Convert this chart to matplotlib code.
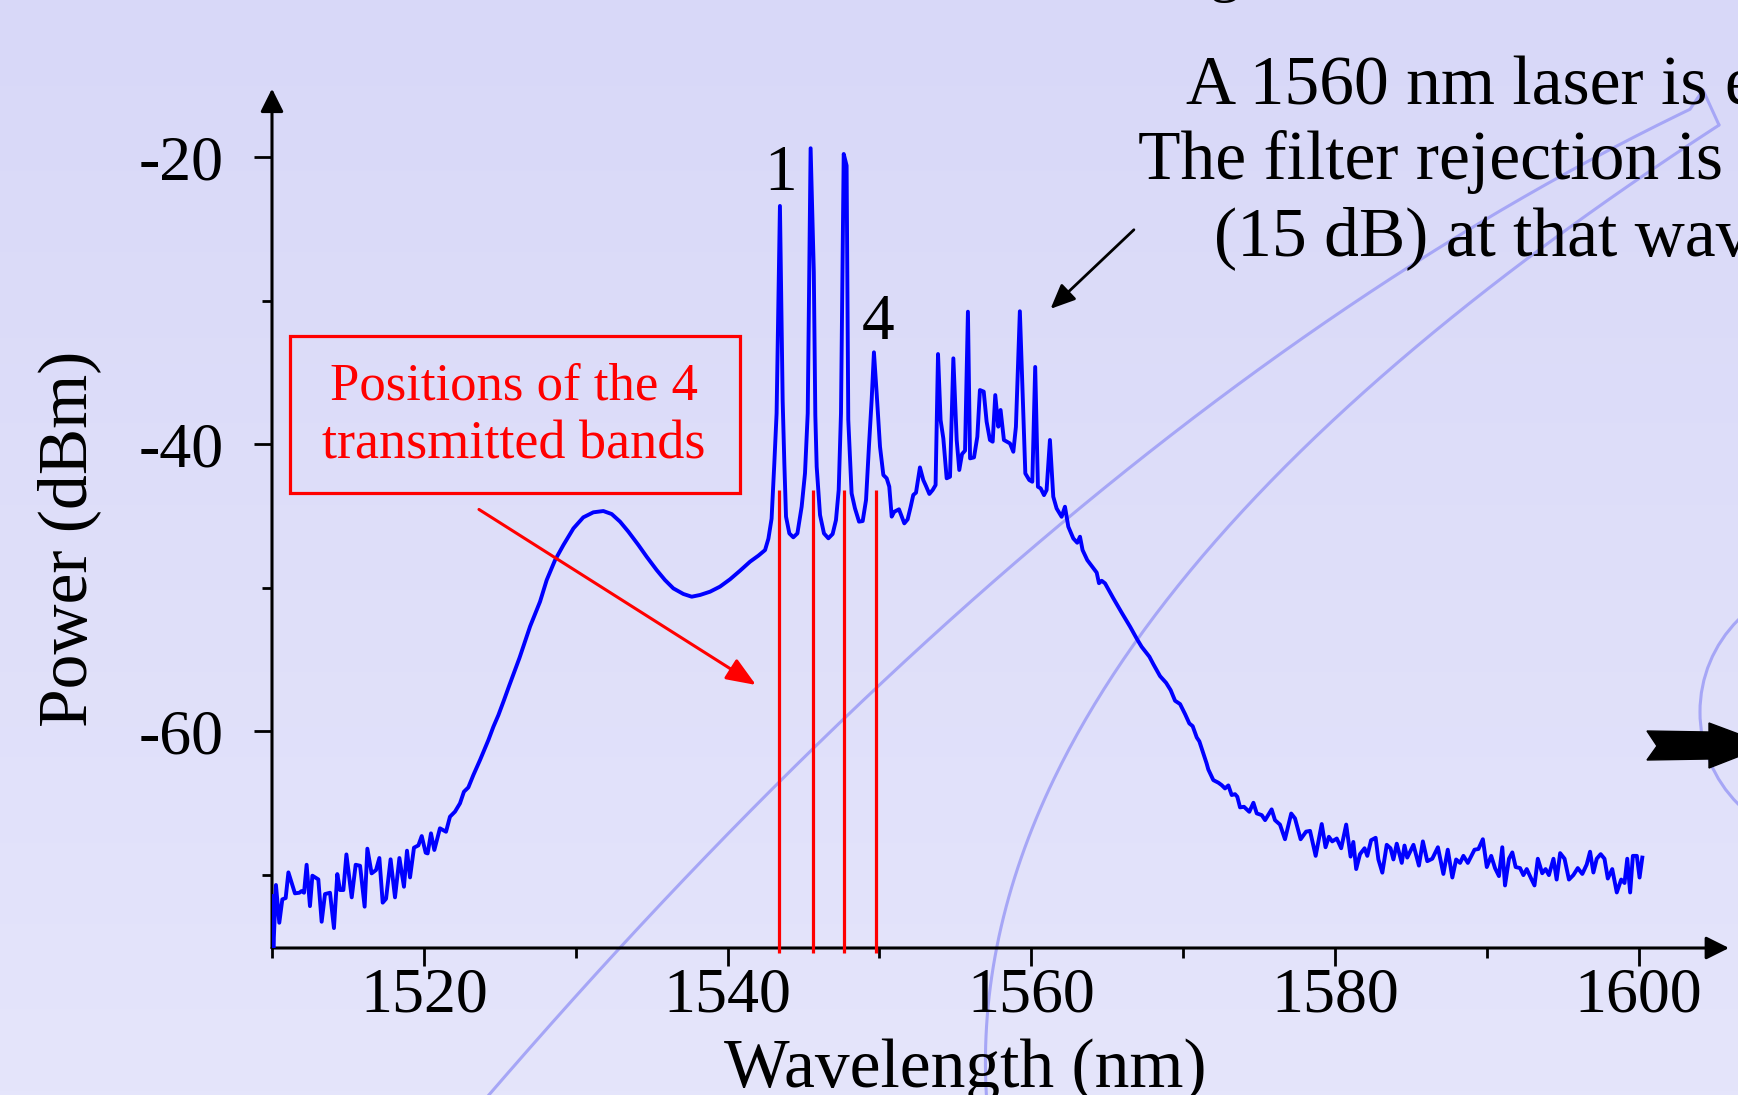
import numpy as np
import matplotlib.pyplot as plt
from matplotlib.patches import Polygon, Rectangle, Circle

plt.rcParams['font.family'] = ['Liberation Serif', 'DejaVu Serif']

wavelength_nm = [
    1510.0, 1510.09, 1510.26, 1510.48, 1510.68, 1510.9, 1511.08, 1511.51, 1511.8, 1511.95,
    1512.11, 1512.28, 1512.5, 1512.66, 1513.05, 1513.27, 1513.49, 1513.82, 1514.08, 1514.3,
    1514.48, 1514.7, 1514.9, 1515.25, 1515.51, 1515.8, 1516.1, 1516.28, 1516.56, 1516.85,
    1517.07, 1517.29, 1517.51, 1517.81, 1518.1, 1518.39, 1518.69, 1518.89, 1519.09, 1519.35,
    1519.64, 1519.86, 1520.12, 1520.25, 1520.47, 1520.69, 1521.06, 1521.46, 1521.72, 1522.05,
    1522.38, 1522.64, 1522.93, 1523.26, 1523.7, 1524.25, 1524.58, 1524.91, 1525.28, 1525.6,
    1526.3, 1527.0, 1527.65, 1528.09, 1528.64, 1529.19, 1529.85, 1530.5, 1531.16, 1531.82,
    1532.37, 1532.92, 1533.47, 1534.13, 1534.67, 1535.33, 1535.88, 1536.43, 1537.09, 1537.64,
    1538.19, 1538.85, 1539.5, 1540.16, 1540.82, 1541.48, 1542.03, 1542.47, 1542.69, 1542.9,
    1543.08, 1543.23, 1543.45, 1543.63, 1543.74, 1543.85, 1544.07, 1544.33, 1544.6, 1544.88,
    1545.1, 1545.28, 1545.47, 1545.68, 1545.78, 1545.87, 1546.09, 1546.35, 1546.64, 1546.92,
    1547.14, 1547.32, 1547.47, 1547.65, 1547.84, 1547.95, 1548.17, 1548.39, 1548.66, 1548.9,
    1549.12, 1549.31, 1549.49, 1549.64, 1549.82, 1550.04, 1550.26, 1550.48, 1550.65, 1550.81,
    1550.98, 1551.29, 1551.64, 1551.86, 1552.06, 1552.23, 1552.41, 1552.67, 1552.89, 1553.07,
    1553.29, 1553.51, 1553.7, 1553.86, 1554.03, 1554.21, 1554.43, 1554.65, 1554.87, 1555.09,
    1555.26, 1555.44, 1555.64, 1555.83, 1555.97, 1556.23, 1556.45, 1556.62, 1556.87, 1557.06,
    1557.28, 1557.46, 1557.63, 1557.83, 1557.98, 1558.2, 1558.6, 1558.82, 1558.99, 1559.25,
    1559.43, 1559.61, 1559.87, 1560.07, 1560.26, 1560.44, 1560.62, 1560.84, 1561.01, 1561.23,
    1561.45, 1561.67, 1562.0, 1562.22, 1562.44, 1562.77, 1563.03, 1563.21, 1563.38, 1563.69,
    1564.31, 1564.46, 1564.64, 1564.86, 1565.41, 1565.96, 1566.51, 1566.94, 1567.27, 1567.78,
    1568.04, 1568.48, 1568.88, 1569.18, 1569.47, 1569.8, 1570.13, 1570.41, 1570.63, 1570.9,
    1571.07, 1571.33, 1571.55, 1571.66, 1571.99, 1572.32, 1572.54, 1572.76, 1572.98, 1573.2,
    1573.42, 1573.57, 1573.75, 1574.01, 1574.36, 1574.63, 1574.85, 1575.18, 1575.4, 1575.83,
    1576.05, 1576.38, 1576.71, 1577.12, 1577.37, 1577.74, 1578.1, 1578.36, 1578.73, 1579.13,
    1579.38, 1579.6, 1579.82, 1580.12, 1580.41, 1580.74, 1581.03, 1581.21, 1581.4, 1581.65,
    1581.95, 1582.13, 1582.38, 1582.68, 1582.86, 1583.12, 1583.41, 1583.66, 1583.85, 1584.07,
    1584.4, 1584.58, 1584.76, 1585.17, 1585.53, 1585.79, 1586.08, 1586.41, 1586.78, 1587.14,
    1587.43, 1587.73, 1587.98, 1588.24, 1588.46, 1588.75, 1589.19, 1589.45, 1589.74, 1590.0,
    1590.29, 1590.54, 1590.8, 1591.02, 1591.2, 1591.46, 1591.68, 1591.9, 1592.19, 1592.41,
    1592.63, 1592.92, 1593.14, 1593.36, 1593.65, 1593.87, 1594.09, 1594.39, 1594.6, 1594.83,
    1595.12, 1595.41, 1595.7, 1595.99, 1596.29, 1596.58, 1596.8, 1597.02, 1597.24, 1597.5,
    1597.75, 1597.97, 1598.26, 1598.56, 1598.85, 1599.07, 1599.25, 1599.44, 1599.62, 1599.88,
    1600.06, 1600.24,
]
power_dbm = [
    -71.5, -75.26, -70.73, -73.36, -71.73, -71.64, -69.85, -71.31, -71.27, -71.15,
    -71.27, -69.32, -72.2, -70.08, -70.34, -73.29, -71.36, -71.27, -73.73, -69.97,
    -71.08, -71.08, -68.6, -71.59, -69.32, -69.39, -72.24, -68.2, -69.92, -69.69,
    -68.85, -71.96, -71.69, -68.94, -71.59, -68.85, -70.85, -68.34, -70.2, -68.13,
    -67.97, -67.32, -68.48, -68.53, -67.13, -68.29, -66.78, -67.02, -65.97, -65.62,
    -65.04, -64.23, -63.93, -63.07, -62.02, -60.63, -59.7, -58.89, -57.84, -56.9,
    -54.9, -52.7, -50.99, -49.48, -48.09, -47.04, -45.88, -45.11, -44.76, -44.67,
    -44.88, -45.41, -46.11, -47.04, -47.85, -48.78, -49.48, -50.06, -50.45, -50.64,
    -50.52, -50.29, -49.94, -49.43, -48.83, -48.2, -47.78, -47.39, -46.6, -45.2,
    -41.35, -37.86, -23.41, -37.0, -41.35, -45.06, -46.23, -46.5, -46.23, -44.37,
    -42.04, -37.86, -19.39, -28.0, -38.0, -41.58, -44.95, -46.23, -46.57, -46.27,
    -45.3, -43.2, -37.86, -19.79, -20.6, -38.3, -43.44, -44.48, -45.41, -45.37,
    -43.9, -40.19, -36.93, -33.61, -36.47, -40.19, -42.16, -42.39, -42.97, -45.06,
    -44.72, -44.55, -45.53, -45.25, -44.37, -43.55, -43.39, -41.63, -42.51, -42.93,
    -43.48, -43.2, -42.86, -33.73, -38.33, -39.61, -42.39, -42.28, -34.03, -39.72,
    -41.81, -40.7, -40.46, -30.78, -41.0, -40.93, -39.49, -36.24, -36.35, -38.44,
    -39.72, -39.84, -36.59, -38.79, -37.63, -39.72, -39.96, -40.54, -38.8, -30.75,
    -36.47, -42.05, -42.51, -42.63, -34.63, -42.98, -43.09, -43.56, -43.21, -39.72,
    -43.67, -44.49, -45.07, -44.37, -45.76, -46.58, -46.88, -46.46, -47.39, -48.09,
    -48.96, -49.7, -49.53, -49.71, -50.76, -51.76, -52.73, -53.55, -54.13, -54.82,
    -55.34, -56.17, -56.64, -57.15, -57.89, -58.12, -58.82, -59.47, -59.66, -60.45,
    -60.72, -61.56, -62.26, -62.68, -63.42, -63.6, -63.77, -64.0, -63.79, -64.46,
    -64.4, -64.58, -65.32, -65.28, -65.63, -65.0, -65.74, -65.86, -66.21, -65.46,
    -66.21, -66.52, -67.54, -65.75, -66.09, -67.54, -67.01, -66.96, -68.7, -66.48,
    -68.1, -67.37, -67.69, -67.49, -68.17, -66.52, -68.75, -67.73, -69.62, -68.58,
    -68.17, -68.7, -67.61, -67.44, -68.95, -69.87, -67.93, -68.17, -68.95, -67.85,
    -69.19, -67.98, -68.82, -67.93, -69.38, -67.69, -69.07, -68.9, -68.1, -69.96,
    -68.27, -70.21, -68.95, -69.19, -68.7, -69.19, -68.27, -68.22, -67.54, -69.48,
    -68.7, -69.55, -70.11, -68.1, -70.76, -68.9, -68.46, -69.48, -69.55, -70.04,
    -69.62, -70.28, -70.76, -68.9, -69.91, -69.62, -70.04, -68.9, -70.35, -68.51,
    -68.9, -70.35, -70.04, -69.55, -69.96, -69.3, -68.41, -69.86, -68.9, -68.58,
    -68.9, -70.28, -69.62, -71.25, -70.35, -70.59, -68.9, -71.25, -68.7, -68.7,
    -70.21, -68.82,
]

band_nm = [1543.37, 1545.61, 1547.67, 1549.8]
band_top_dbm = -43.2
band_bottom_dbm = -75.45

peak_labels = ['1', '4']
peak_label_nm = [1543.5, 1549.9]
peak_label_dbm = [-22.3, -32.7]

x_major = [1520, 1540, 1560, 1580, 1600]
x_minor = [1510, 1530, 1550, 1570, 1590]
y_major = [-20, -40, -60]
y_minor = [-30, -50, -70]

slide_lines = [
    "A 1560 nm laser is emitted",
    "The filter rejection is insufficient",
    "(15 dB) at that wavelength",
]

W, H = 1738, 1095
fig = plt.figure(figsize=(W / 100, H / 100), dpi=100)

# slide background, in pixel coordinates
bg = fig.add_axes([0, 0, 1, 1], zorder=0)
top_c = np.array([216, 216, 248]) / 255
bot_c = np.array([229, 229, 251]) / 255
t = np.linspace(0, 1, 256)[:, None, None]
bg.imshow(top_c + (bot_c - top_c) * t, extent=(0, W, H, 0), aspect='auto')

# faint swoosh from the slide template
deco = '#A6A6F6'
ox = [504, 560, 617, 700, 778, 871, 950, 1040, 1150, 1300, 1441, 1552, 1676]
oy = [1095, 1012, 946, 858, 772, 686, 617, 540, 462, 343, 260, 185, 102]
iy = [125, 163, 246, 350, 452, 520, 558, 620, 692, 779, 860, 932, 1010, 1095]
ix = [1719, 1664, 1537, 1420, 1300, 1235, 1200, 1150, 1100, 1053, 1020, 1003, 990, 984]
xs = np.linspace(480, 1690, 220)
ys = np.polyval(np.polyfit(ox, oy, 2), xs)
yi = np.linspace(125, 1110, 200)
xi = np.polyval(np.polyfit(iy, ix, 3), yi)
bg.plot(np.r_[xs, 1703, 1719, xi], np.r_[ys, 90, 125, yi], color=deco, lw=2.2)
bg.add_patch(Circle((1830, 712), 130, fill=False, ec=deco, lw=2.2))
bg.add_patch(Polygon([(1647, 731), (1709, 732), (1709, 723), (1768, 745), (1709, 768),
                      (1709, 759), (1647, 760), (1657, 746)], closed=True, fc='k', ec='k'))
bg.set_xlim(0, W)
bg.set_ylim(H, 0)
bg.axis('off')

for txt, x, y in zip(slide_lines, [1186, 1138, 1214], [103, 179, 256]):
    bg.text(x, y, txt, fontsize=50, ha='left', va='baseline', color='k')
bg.text(1240, -10, "Filtering", fontsize=44, ha='right', va='baseline', color='k')

# spectrum axes
ax = fig.add_axes([272 / W, 1 - 948 / H, (1729 - 272) / W, (948 - 88.7) / H], zorder=1)
ax.set_facecolor('none')
ax.set_xlim(1510, 1605.95)
ax.set_ylim(-75.12, -15.24)
for s in ax.spines.values():
    s.set_visible(False)

arrow_kw = dict(arrowstyle='-|>,head_length=0.7,head_width=0.35', lw=2.2, color='k',
                shrinkA=0, shrinkB=0, mutation_scale=20)
ax.annotate('', xy=(1, 0), xytext=(0, 0), xycoords='axes fraction', arrowprops=arrow_kw)
ax.annotate('', xy=(0, 1), xytext=(0, 0), xycoords='axes fraction', arrowprops=arrow_kw)

ax.set_xticks(x_major)
ax.set_xticklabels([str(v) for v in x_major])
ax.set_xticks(x_minor, minor=True)
ax.set_yticks(y_major)
ax.set_yticklabels([str(v) for v in y_major])
ax.set_yticks(y_minor, minor=True)
ax.tick_params(which='both', direction='out', width=2.0, colors='k')
ax.tick_params(which='major', length=13, labelsize=46)
ax.tick_params(which='minor', length=7.5)
ax.tick_params(axis='x', which='major', pad=1)
ax.tick_params(axis='y', which='major', pad=22)

ax.set_xlabel("Wavelength (nm)", fontsize=50, va='baseline')
ax.xaxis.set_label_coords(0.476, -0.1618)
ax.set_ylabel("Power (dBm)", fontsize=50, va='center', ha='center')
ax.yaxis.set_label_coords(-0.1393, 0.476)

ax.plot(wavelength_nm, power_dbm, color='#0000FF', lw=2.8, zorder=3)
ax.vlines(band_nm, band_bottom_dbm, band_top_dbm, colors='#FF0000', lw=2.3,
          clip_on=False, zorder=4)

for lab, x, y in zip(peak_labels, peak_label_nm, peak_label_dbm):
    ax.text(x, y, lab, fontsize=47, ha='center', va='baseline', color='k')

# red call-out box
ax.add_patch(Rectangle((1511.19, -43.41), 29.62, 10.94, fill=False, ec='#FF0000', lw=2.3,
                       zorder=4))
ax.text(1525.94, -36.93, "Positions of the 4", fontsize=38, color='#FF0000',
        ha='center', va='baseline')
ax.text(1525.94, -40.98, "transmitted bands", fontsize=39, color='#FF0000',
        ha='center', va='baseline')
ax.annotate('', xy=(1541.87, -56.79), xytext=(1523.63, -44.56),
            arrowprops=dict(arrowstyle='-|>,head_length=0.9,head_width=0.36', lw=2.2,
                            color='#FF0000', shrinkA=0, shrinkB=0, mutation_scale=20))
ax.annotate('', xy=(1561.27, -30.58), xytext=(1566.76, -25.07),
            arrowprops=dict(arrowstyle='-|>,head_length=0.75,head_width=0.33', lw=2.0,
                            color='k', shrinkA=0, shrinkB=0, mutation_scale=20))

fig.savefig('out.png', dpi=100)
